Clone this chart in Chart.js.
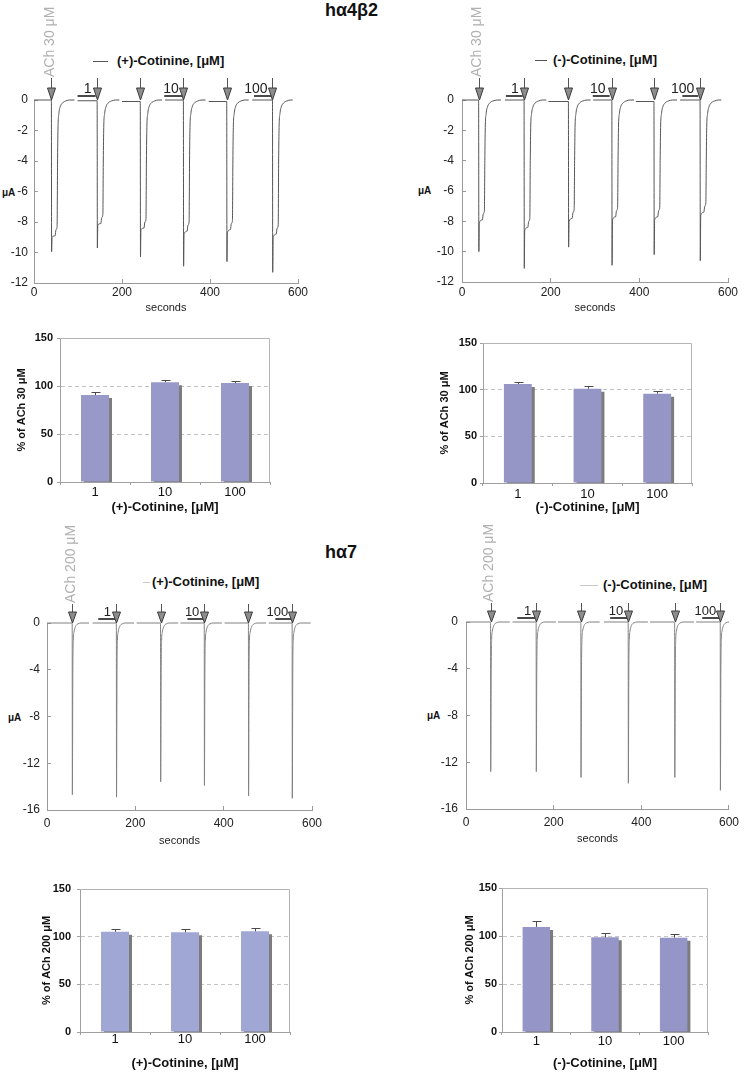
<!DOCTYPE html>
<html><head><meta charset="utf-8">
<script src="https://cdn.jsdelivr.net/npm/chart.js@4.4.1/dist/chart.umd.min.js"></script>
<style>
body{margin:0;background:#fff;width:749px;height:1072px;position:relative;overflow:hidden;font-family:"Liberation Sans",Arial,Helvetica,sans-serif;}
canvas{position:absolute;}
.t{position:absolute;white-space:nowrap;color:#111;}
.ln{position:absolute;height:1px;}
</style></head><body>
<div class="t" style="left:325px;top:-1px;font:bold 18px/22px 'Liberation Sans',Arial,sans-serif;">hα4β2</div>
<div class="t" style="left:325px;top:541px;font:bold 18px/22px 'Liberation Sans',Arial,sans-serif;">hα7</div>

<div class="ln" style="left:93px;top:61px;width:15px;background:#555;"></div>
<div class="t" style="left:117px;top:53px;font:bold 13px/16px 'Liberation Sans',Arial,sans-serif;">(+)-Cotinine, [μM]</div>
<div class="ln" style="left:535px;top:60px;width:12px;background:#555;"></div>
<div class="t" style="left:553px;top:52px;font:bold 13px/16px 'Liberation Sans',Arial,sans-serif;">(-)-Cotinine, [μM]</div>
<div class="ln" style="left:143px;top:582px;width:7px;background:#c8c8c8;"></div>
<div class="t" style="left:152px;top:574px;font:bold 13px/16px 'Liberation Sans',Arial,sans-serif;">(+)-Cotinine, [μM]</div>
<div class="ln" style="left:580px;top:585px;width:18px;background:#c8c8c8;"></div>
<div class="t" style="left:603px;top:577px;font:bold 13px/16px 'Liberation Sans',Arial,sans-serif;">(-)-Cotinine, [μM]</div>

<div class="t" style="left:2px;top:187px;font:bold 10px/12px 'Liberation Sans',Arial,sans-serif;">μA</div>
<div class="t" style="left:418px;top:185px;font:bold 10px/12px 'Liberation Sans',Arial,sans-serif;">μA</div>
<div class="t" style="left:8px;top:712px;font:bold 10px/12px 'Liberation Sans',Arial,sans-serif;">μA</div>
<div class="t" style="left:427px;top:710px;font:bold 10px/12px 'Liberation Sans',Arial,sans-serif;">μA</div>

<canvas id="cA" width="330" height="320" style="left:0;top:0"></canvas>
<canvas id="cB" width="369" height="320" style="left:380px;top:0"></canvas>
<canvas id="bA" width="330" height="195" style="left:0;top:325px"></canvas>
<canvas id="bB" width="369" height="195" style="left:380px;top:325px"></canvas>
<canvas id="cC" width="340" height="330" style="left:0;top:520px"></canvas>
<canvas id="cD" width="369" height="330" style="left:380px;top:520px"></canvas>
<canvas id="bC" width="340" height="212" style="left:0;top:860px"></canvas>
<canvas id="bD" width="369" height="212" style="left:380px;top:860px"></canvas>

<script>
// ---------------- DATA ----------------
// Current traces (seconds, µA), one array per recorded sweep
const sweepsA = [
 [[0,0],[39.5,0],[40,-9.95],[41,-9.0],[48,-8.9],[50,-8.5],[52.5,-8.3],[53.5,-4.2],[54.5,-1.9],[56.5,-0.9],[59.5,-0.45],[64.5,-0.2],[71.5,-0.07],[81.5,0],[92,0]],
 [[99,-0.05],[143.5,-0.05],[144,-9.7],[145,-8.2],[152,-8.1],[154,-7.7],[156.5,-7.5],[157.5,-4],[158.5,-1.8],[160.5,-0.9],[163.5,-0.45],[168.5,-0.2],[175.5,-0.07],[185.5,0],[194,0]],
 [[200,-0.1],[241.5,-0.1],[242,-10.3],[243,-8.5],[250,-8.4],[252,-8.0],[254.5,-7.8],[255.5,-4],[256.5,-1.8],[258.5,-0.9],[261.5,-0.45],[266.5,-0.2],[273.5,-0.07],[283.5,0],[291,0]],
 [[298,0],[339.5,0],[340,-10.9],[341,-8.8],[348,-8.6],[350,-8.2],[352.5,-8.0],[353.5,-4],[354.5,-1.8],[356.5,-0.9],[359.5,-0.45],[364.5,-0.2],[371.5,-0.07],[381.5,0],[390,0]],
 [[397,-0.1],[438,-0.1],[438.5,-10.6],[439.5,-8.7],[446.5,-8.5],[448.5,-8.1],[451,-7.9],[452,-4],[453,-1.8],[455,-0.9],[458,-0.45],[463,-0.2],[470,-0.07],[480,0],[488,0]],
 [[496,0],[542,0],[542.5,-11.3],[543.5,-9.0],[550.5,-8.8],[552.5,-8.4],[555,-8.2],[556,-4],[557,-1.8],[559,-0.9],[562,-0.45],[567,-0.2],[574,-0.07],[584,0],[588,0]]
];
const sweepsB = [
 [[0,0],[37.5,0],[38,-10],[39,-8.1],[46,-7.9],[48,-7.5],[50.5,-7.3],[51.5,-4],[52.5,-1.8],[54.5,-0.9],[57.5,-0.45],[62.5,-0.2],[69.5,-0.07],[79.5,0],[88,0]],
 [[97,0],[140,0],[140.5,-11.1],[141.5,-8.6],[148.5,-8.4],[150.5,-8.0],[153,-7.8],[154,-4],[155,-1.8],[157,-0.9],[160,-0.45],[165,-0.2],[172,-0.07],[182,0],[190,0]],
 [[195,-0.1],[240,-0.1],[240.5,-9.7],[241.5,-8.0],[248.5,-7.8],[250.5,-7.4],[253,-7.2],[254,-4],[255,-1.8],[257,-0.9],[260,-0.45],[265,-0.2],[272,-0.07],[282,0],[290,0]],
 [[296,0],[338,0],[338.5,-10.9],[339.5,-7.9],[346.5,-7.7],[348.5,-7.3],[351,-7.1],[352,-4],[353,-1.8],[355,-0.9],[358,-0.45],[363,-0.2],[370,-0.07],[380,0],[388,0]],
 [[392,-0.1],[433,-0.1],[433.5,-10.2],[434.5,-7.9],[441.5,-7.7],[443.5,-7.3],[446,-7.1],[447,-4],[448,-1.8],[450,-0.9],[453,-0.45],[458,-0.2],[465,-0.07],[475,0],[485,0]],
 [[492,0],[537,0],[537.5,-10.6],[538.5,-7.6],[545.5,-7.4],[547.5,-7.0],[550,-6.8],[551,-4],[552,-1.8],[554,-0.9],[557,-0.45],[562,-0.2],[569,-0.07],[579,0],[585,0]]
];
const sweepsC = [
 [[0,0],[57,0],[57.4,-14.7],[58.5,-4],[59.5,-1.5],[61,-0.8],[63,-0.45],[66,-0.2],[70,-0.07],[77,0],[95,0]],
 [[103,0],[157,0],[157.4,-14.9],[158.5,-4],[159.5,-1.5],[161,-0.8],[163,-0.45],[166,-0.2],[170,-0.07],[177,0],[197,0]],
 [[203,0],[257,0],[257.4,-13.6],[258.5,-4],[259.5,-1.5],[261,-0.8],[263,-0.45],[266,-0.2],[270,-0.07],[277,0],[297,0]],
 [[302,0],[356,0],[356.4,-13.9],[357.5,-4],[358.5,-1.5],[360,-0.8],[362,-0.45],[365,-0.2],[369,-0.07],[376,0],[396,0]],
 [[402,0],[456,0],[456.4,-14.8],[457.5,-4],[458.5,-1.5],[460,-0.8],[462,-0.45],[465,-0.2],[469,-0.07],[476,0],[496,0]],
 [[502,0],[555,0],[555.4,-15.0],[556.5,-4],[557.5,-1.5],[559,-0.8],[561,-0.45],[564,-0.2],[568,-0.07],[575,0],[597,0]]
];
const sweepsD = [
 [[0,0],[56,0],[56.4,-12.8],[57.5,-4],[58.5,-1.5],[60,-0.8],[62,-0.45],[65,-0.2],[69,-0.07],[76,0],[100,0]],
 [[106,0],[160,0],[160.4,-12.8],[161.5,-4],[162.5,-1.5],[164,-0.8],[166,-0.45],[169,-0.2],[173,-0.07],[180,0],[205,0]],
 [[210,0],[262,0],[262.4,-13.3],[263.5,-4],[264.5,-1.5],[266,-0.8],[268,-0.45],[271,-0.2],[275,-0.07],[282,0],[305,0]],
 [[315,0],[370,0],[370.4,-13.8],[371.5,-4],[372.5,-1.5],[374,-0.8],[376,-0.45],[379,-0.2],[383,-0.07],[390,0],[415,0]],
 [[420,0],[476,0],[476.4,-13.3],[477.5,-4],[478.5,-1.5],[480,-0.8],[482,-0.45],[485,-0.2],[489,-0.07],[496,0],[520,0]],
 [[525,0],[580,0],[580.4,-14.4],[581.5,-4],[582.5,-1.5],[584,-0.8],[586,-0.45],[589,-0.2],[593,-0.07],[600,0],[634,0]]
];
// ACh application times (s)
const achA = [39.5,143.5,241.5,339.5,438,542];
const achB = [37.5,140,240,338,433,537];
const achC = [57,157,257,356,456,555];
const achD = [56,160,262,370,476,580];
// Cotinine pre-application windows [start, end, concentration label]
const cotA = [[99,140,'1'],[296,338,'10'],[500,540,'100']];
const cotB = [[99,137,'1'],[295,333,'10'],[497,533,'100']];
const cotC = [[116,154,'1'],[318,354,'10'],[517,555,'100']];
const cotD = [[117,158,'1'],[329,368,'10'],[539,580,'100']];
// Trace axis ticks
const traceXTicks = [0,200,400,600];
const yTicks4b2 = [0,-2,-4,-6,-8,-10,-12];
const yTicks7 = [0,-4,-8,-12,-16];
// Bar summaries (% of ACh response) and errors
const concLabels = ['1','10','100'];
const plusA4b2 = [90.5,104,103];
const plusA4b2Err = [3,2,1.7];
const minusA4b2 = [106,101,95.7];
const minusA4b2Err = [2.5,3,3.2];
const plusA7 = [105.2,104.6,105.6];
const plusA7Err = [2.8,3.1,3.4];
const minusA7 = [109.5,98.6,98.2];
const minusA7Err = [6.5,4.2,3.5];
const barYTicks = [0,50,100,150];

// ---------------- RENDERING ----------------
const F = '"Liberation Sans", Arial, Helvetica, sans-serif';
Chart.defaults.font.family = F;
Chart.defaults.color = '#111';

const marksPlugin = {
  id:'marks',
  afterDraw(chart, args, o){
    if(!o || !o.arrows) return;
    const ctx = chart.ctx, xs = chart.scales.x, ys = chart.scales.y;
    const y0 = ys.getPixelForValue(0);
    ctx.save();
    o.bars.forEach(b=>{
      const x1 = xs.getPixelForValue(b[0]), x2 = xs.getPixelForValue(b[1]);
      ctx.strokeStyle = '#4a4a4a'; ctx.lineWidth = 2;
      ctx.beginPath(); ctx.moveTo(x1, y0-o.barOff); ctx.lineTo(x2, y0-o.barOff); ctx.stroke();
      ctx.fillStyle = '#222'; ctx.font = o.labelSize+'px '+F;
      ctx.textAlign = 'right'; ctx.textBaseline = 'alphabetic';
      ctx.fillText(b[2], x2-4, y0-o.labelOff);
    });
    o.arrows.forEach(t=>{
      const x = Math.round(xs.getPixelForValue(t))+0.5;
      ctx.strokeStyle = '#555'; ctx.lineWidth = 1;
      ctx.beginPath(); ctx.moveTo(x, y0-o.ah-o.stem); ctx.lineTo(x, y0-o.ah); ctx.stroke();
      ctx.beginPath(); ctx.moveTo(x-o.aw, y0-o.ah); ctx.lineTo(x+o.aw, y0-o.ah); ctx.lineTo(x, y0); ctx.closePath();
      ctx.fillStyle = '#8c8c8c'; ctx.fill(); ctx.strokeStyle = '#3a3a3a'; ctx.stroke();
    });
    const xa = xs.getPixelForValue(o.arrows[0]) - 1;
    ctx.translate(xa, y0-o.ah-o.stem-1); ctx.rotate(-Math.PI/2);
    ctx.fillStyle = '#b0b0b0'; ctx.font = o.achSize+'px '+F;
    ctx.textAlign = 'left'; ctx.textBaseline = 'middle';
    ctx.fillText(o.achText, 0, 0);
    ctx.restore();
  }
};

function makeTrace(id, sweeps, arrows, bars, achText, yTicks, L){
  new Chart(document.getElementById(id), {
    type:'line',
    data:{datasets: sweeps.map(s=>({data:s, borderColor:L.color, borderWidth:1, pointRadius:0,
      cubicInterpolationMode:'monotone', fill:false, clip:false}))},
    options:{responsive:false, animation:false, events:[],
      layout:{padding:L.pad},
      plugins:{legend:{display:false}, tooltip:{enabled:false},
        marks:{arrows, bars, achText, barOff:4, labelOff:7, labelSize:L.labelSize, ah:L.ah, aw:4, stem:L.stem, achSize:14}},
      scales:{
        x:{type:'linear', min:traceXTicks[0], max:traceXTicks[traceXTicks.length-1],
           afterBuildTicks(s){ s.ticks = traceXTicks.map(v=>({value:v})); },
           ticks:{font:{size:12}, color:'#222', padding:L.xPad, maxRotation:0},
           grid:{drawOnChartArea:false, drawTicks:true, tickLength:-4, color:'#9a9a9a'},
           border:{color:'#9a9a9a'},
           title:{display:true, text:'seconds', font:{size:11}, color:'#222', padding:{top:0,bottom:0}},
           afterFit(s){ s.height = L.xH; }},
        y:{min:yTicks[yTicks.length-1], max:yTicks[0],
           afterBuildTicks(s){ s.ticks = yTicks.slice().reverse().map(v=>({value:v})); },
           ticks:{font:{size:12}, color:'#222', padding:L.yPad},
           grid:{drawOnChartArea:false, drawTicks:true, tickLength:-4, color:'#9a9a9a'},
           border:{color:'#9a9a9a'},
           afterFit(s){ s.width = L.yW; }}
      }},
    plugins:[marksPlugin]
  });
}

const shadowPlugin = {
  id:'shadow',
  beforeDatasetDraw(chart){ const c=chart.ctx; c.save(); c.shadowColor='#7c7c7c'; c.shadowOffsetX=3; c.shadowOffsetY=3; c.shadowBlur=0; },
  afterDatasetDraw(chart){ chart.ctx.restore(); }
};
const framePlugin = {
  id:'frame',
  beforeDatasetsDraw(chart){
    const {ctx, chartArea:a} = chart;
    ctx.save(); ctx.strokeStyle='#b4b4b4'; ctx.lineWidth=1;
    ctx.beginPath(); ctx.moveTo(a.left, a.top+0.5); ctx.lineTo(a.right-0.5, a.top+0.5); ctx.lineTo(a.right-0.5, a.bottom); ctx.stroke();
    ctx.restore();
  }
};
const errPlugin = {
  id:'err',
  afterDatasetsDraw(chart, args, o){
    if(!o || !o.err) return;
    const ctx = chart.ctx, ys = chart.scales.y;
    const meta = chart.getDatasetMeta(0), vals = chart.data.datasets[0].data;
    ctx.save(); ctx.strokeStyle='#4a4a4a'; ctx.lineWidth=1;
    meta.data.forEach((el,i)=>{
      const x = Math.round(el.x)+0.5, yt = ys.getPixelForValue(vals[i]), ye = Math.round(ys.getPixelForValue(vals[i]+o.err[i]))+0.5;
      ctx.beginPath(); ctx.moveTo(x, yt); ctx.lineTo(x, ye); ctx.moveTo(x-4, ye); ctx.lineTo(x+5, ye); ctx.stroke();
    });
    ctx.restore();
  }
};

function makeBar(id, vals, errs, color, yTitle, xTitle, L){
  new Chart(document.getElementById(id), {
    type:'bar',
    data:{labels:concLabels, datasets:[{data:vals, backgroundColor:color, barPercentage:0.4, categoryPercentage:1, clip:0}]},
    options:{responsive:false, animation:false, events:[],
      layout:{padding:L.pad},
      plugins:{legend:{display:false}, tooltip:{enabled:false}, err:{err:errs}},
      scales:{
        x:{ticks:{font:{size:13}, color:'#111', padding:L.xPad},
           grid:{drawOnChartArea:false, drawTicks:true, tickLength:3, color:'#a0a0a0', offset:true},
           border:{color:'#a0a0a0'},
           title:{display:true, text:xTitle, font:{size:13, weight:'bold'}, color:'#111', padding:{top:0,bottom:0}},
           afterFit(s){ s.height = L.xH; }},
        y:{min:barYTicks[0], max:barYTicks[barYTicks.length-1],
           afterBuildTicks(s){ s.ticks = barYTicks.map(v=>({value:v})); },
           ticks:{font:{size:11, weight:'bold'}, color:'#111', padding:L.yPad},
           grid:{color:c=>(c.tick && (c.tick.value===50||c.tick.value===100))?'#c4c4c4':'rgba(0,0,0,0)', tickColor:'#a0a0a0', tickLength:3},
           border:{color:'#a0a0a0', dash:[4,3]},
           title:{display:true, text:yTitle, font:{size:11, weight:'bold'}, color:'#111', padding:{top:L.tPad,bottom:0}},
           afterFit(s){ s.width = L.yW; }}
      }},
    plugins:[framePlugin, shadowPlugin, errPlugin]
  });
}

makeTrace('cA', sweepsA, achA, cotA, 'ACh 30 μM', yTicks4b2,
  {color:'#555', pad:{left:0,top:100,right:32,bottom:5}, yW:34, xH:32, yPad:10, xPad:6, labelSize:14, ah:12, stem:10});
makeTrace('cB', sweepsB, achB, cotB, 'ACh 30 μM', yTicks4b2,
  {color:'#555', pad:{left:52,top:100,right:21,bottom:5}, yW:30, xH:33, yPad:12, xPad:7, labelSize:14, ah:12, stem:10});
makeTrace('cC', sweepsC, achC, cotC, 'ACh 200 μM', yTicks7,
  {color:'#808080', pad:{left:0,top:103,right:28,bottom:2}, yW:47, xH:38, yPad:11, xPad:10, labelSize:13, ah:11, stem:8});
makeTrace('cD', sweepsD, achD, cotD, 'ACh 200 μM', yTicks7,
  {color:'#808080', pad:{left:56,top:102,right:17,bottom:4}, yW:30, xH:37, yPad:12, xPad:10, labelSize:13, ah:11, stem:8});

makeBar('bA', plusA4b2, plusA4b2Err, '#9898c9', '% of ACh 30 μM', '(+)-Cotinine, [μM]',
  {pad:{left:0,top:13,right:60,bottom:5}, yW:60, xH:33, tPad:15, yPad:4, xPad:0});
makeBar('bB', minusA4b2, minusA4b2Err, '#9696c6', '% of ACh 30 μM', '(-)-Cotinine, [μM]',
  {pad:{left:44,top:18,right:57,bottom:5}, yW:59, xH:32, tPad:14, yPad:3, xPad:1});
makeBar('bC', plusA7, plusA7Err, '#a0a7d4', '% of ACh 200 μM', '(+)-Cotinine, [μM]',
  {pad:{left:20,top:29,right:50,bottom:1}, yW:60, xH:39, tPad:20, yPad:6, xPad:-3});
makeBar('bD', minusA7, minusA7Err, '#9595c7', '% of ACh 200 μM', '(-)-Cotinine, [μM]',
  {pad:{left:63,top:28,right:41,bottom:1}, yW:59, xH:39, tPad:20, yPad:2, xPad:-1});
</script>
</body></html>
